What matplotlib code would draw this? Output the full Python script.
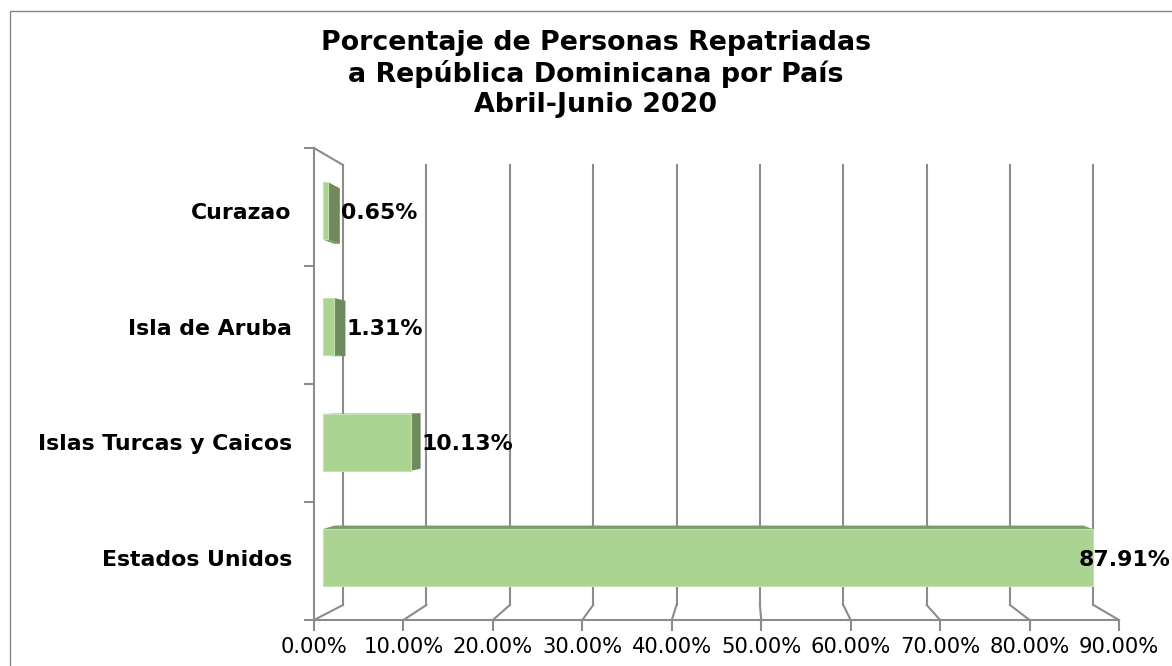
import numpy as np
import matplotlib
matplotlib.use('Agg')
import matplotlib.pyplot as plt
from matplotlib.patches import Polygon, Rectangle

# ----------------------------- DATA -----------------------------
paises = ['Estados Unidos', 'Islas Turcas y Caicos', 'Isla de Aruba', 'Curazao']
porcentajes = [87.91, 10.13, 1.31, 0.65]
xticks = [0, 10, 20, 30, 40, 50, 60, 70, 80, 90]
titulo = 'Porcentaje de Personas Repatriadas\na República Dominicana por País\nAbril-Junio 2020'

# ----------------------------- STYLE -----------------------------
W, H = 1172, 666
grid_col = '#8c8c8c'
front_col = '#abd391'
side_col = '#6f8a5c'
top_col = '#7e9c69'

# fake 3d: depth pulls points toward a vanishing point (data units)
VP = (47.85, 1.373)
T_BACK = 0.0678   # back wall
T_BAR0 = 0.0203   # front face of bars
T_BAR1 = 0.0474   # back face of bars
half = 0.247      # half bar height (category units)
label_xmax = 85.5


def proj(v, c, t):
    return (v + t*(VP[0]-v), c + t*(VP[1]-c))


fig = plt.figure(figsize=(W/100, H/100), dpi=100)
ax = fig.add_axes([314/W, 1-620/H, (1119-314)/W, (620-148)/H])
ax.set_xlim(0, 90)
ax.set_ylim(-0.5, 3.5)

# chart border
fig.patches.append(Rectangle((10/W, -0.05), 1.2, 1-11/H+0.05, transform=fig.transFigure,
                             fill=False, ec='#868686', lw=1))

# back wall gridlines + floor diagonals
for v in xticks:
    b0 = proj(v, -0.5, T_BACK)
    b1 = proj(v, 3.5, T_BACK)
    ax.plot([b0[0], b1[0]], [b0[1], b1[1]], color=grid_col, lw=1.5, zorder=1, clip_on=False)
    ax.plot([v, b0[0]], [-0.5, b0[1]], color=grid_col, lw=1.5, zorder=1, clip_on=False)
# left wall top edge
t1 = proj(0, 3.5, T_BACK)
ax.plot([0, t1[0]], [3.5, t1[1]], color=grid_col, lw=1.5, zorder=1, clip_on=False)

# bars
for i, v in enumerate(porcentajes):
    y0, y1 = i - half, i + half
    if y1 < VP[1]:
        pts = [proj(0, y1, T_BAR0), proj(v, y1, T_BAR0), proj(v, y1, T_BAR1), proj(0, y1, T_BAR1)]
        ax.add_patch(Polygon(pts, closed=True, fc=top_col, ec='none', zorder=2, clip_on=False))
    if y0 > VP[1]:
        pts = [proj(0, y0, T_BAR0), proj(v, y0, T_BAR0), proj(v, y0, T_BAR1), proj(0, y0, T_BAR1)]
        ax.add_patch(Polygon(pts, closed=True, fc=top_col, ec='none', zorder=2, clip_on=False))
    if v < VP[0]:
        pts = [proj(v, y0, T_BAR0), proj(v, y0, T_BAR1), proj(v, y1, T_BAR1), proj(v, y1, T_BAR0)]
        ax.add_patch(Polygon(pts, closed=True, fc=side_col, ec='none', zorder=3, clip_on=False))
    pts = [proj(0, y0, T_BAR0), proj(v, y0, T_BAR0), proj(v, y1, T_BAR0), proj(0, y1, T_BAR0)]
    ax.add_patch(Polygon(pts, closed=True, fc=front_col, ec='#c5e0b2', lw=0.8, zorder=4, clip_on=False))
    lx, ly = proj(v, i, T_BAR1)
    ax.text(min(lx + 0.1, label_xmax), proj(v, i, T_BAR0)[1] - 0.02, '%.2f%%' % v, ha='left', va='center',
            fontsize=15.8, fontweight='bold', color='black', zorder=5, clip_on=False)

# axes styling
for s in ['top', 'right']:
    ax.spines[s].set_visible(False)
for s in ['left', 'bottom']:
    ax.spines[s].set_color(grid_col)
    ax.spines[s].set_linewidth(1.5)

ax.set_xticks(xticks)
ax.set_xticklabels(['%.2f%%' % x for x in xticks], fontsize=15.2)
ax.tick_params(axis='x', length=8, width=1.5, color=grid_col, pad=4)

ax.set_yticks([proj(0, i, T_BAR0)[1] for i in range(len(paises))])
ax.set_yticklabels(paises, fontsize=15.8, fontweight='bold')
ax.tick_params(axis='y', which='major', length=0, pad=16)
ax.set_yticks(np.arange(-0.5, 4, 1), minor=True)
ax.tick_params(axis='y', which='minor', length=7, width=1.5, color=grid_col)

fig.text(596/W, 1-74/H, titulo, ha='center', va='center', fontsize=19.4,
         fontweight='bold', linespacing=1.2)

fig.savefig('out.png', dpi=100)
